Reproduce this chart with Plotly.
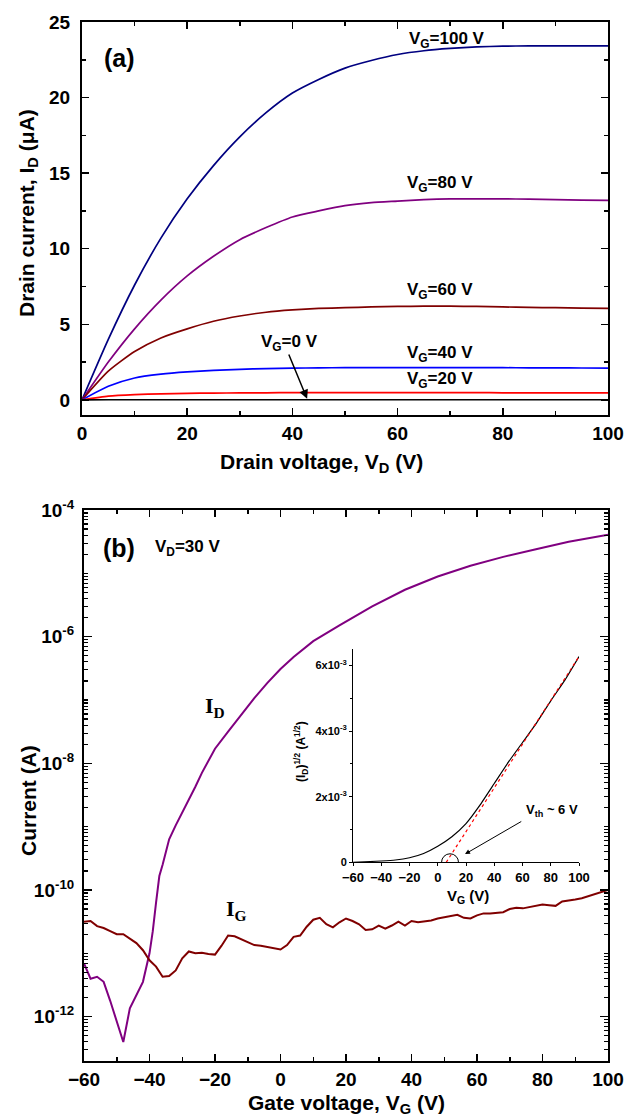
import plotly.graph_objects as go

# ---------------- data: panel (a) output characteristics ----------------
VD = [0, 5, 10, 15, 20, 25, 30, 35, 40, 45, 50, 55, 60, 65, 70, 75, 80, 85, 90, 95, 100]
ID_VG100 = [0, 4.0, 7.6, 10.7, 13.3, 15.5, 17.4, 19.0, 20.3, 21.2, 21.95, 22.45, 22.85, 23.1, 23.25, 23.35, 23.4, 23.42, 23.42, 23.42, 23.42]
ID_VG80 = [0, 2.5, 4.7, 6.6, 8.2, 9.5, 10.6, 11.4, 12.1, 12.5, 12.85, 13.05, 13.15, 13.25, 13.3, 13.3, 13.3, 13.28, 13.25, 13.22, 13.2]
ID_VG60 = [0, 1.9, 3.2, 4.1, 4.7, 5.2, 5.55, 5.8, 5.95, 6.05, 6.1, 6.15, 6.18, 6.2, 6.2, 6.18, 6.15, 6.12, 6.1, 6.07, 6.05]
ID_VG40 = [0, 0.9, 1.45, 1.7, 1.85, 1.95, 2.02, 2.07, 2.1, 2.12, 2.13, 2.14, 2.14, 2.14, 2.14, 2.13, 2.13, 2.12, 2.12, 2.11, 2.1]
ID_VG20 = [0, 0.25, 0.35, 0.4, 0.43, 0.45, 0.46, 0.47, 0.48, 0.48, 0.48, 0.48, 0.48, 0.48, 0.48, 0.48, 0.47, 0.47, 0.47, 0.47, 0.47]
ID_VG0 = [0, 0.01, 0.01, 0.01, 0.01, 0.01, 0.01, 0.01, 0.01, 0.01, 0.01, 0.01, 0.01, 0.01, 0.01, 0.01, 0.01, 0.01, 0.01, 0.01, 0.01]
A_LABELS = ["V<sub>G</sub>=100 V", "V<sub>G</sub>=80 V", "V<sub>G</sub>=60 V",
            "V<sub>G</sub>=40 V", "V<sub>G</sub>=20 V", "V<sub>G</sub>=0 V"]

# ---------------- data: panel (b) transfer characteristics (A) ----------------
ID_VG = [-60, -58, -56, -54, -52, -50, -48, -46, -44, -42, -40, -39, -38, -37, -36, -34, -32, -30,
         -28, -26, -24, -22, -20, -16, -12, -8, -4, 0, 4, 10, 18, 28, 38, 48, 58, 68, 78, 88, 100]
ID_B = [6.92e-12, 3.98e-12, 4.27e-12, 3.55e-12, 1.78e-12, 8.3e-13, 3.98e-13, 1.35e-12, 2.19e-12,
        3.55e-12, 1.0e-11, 2.24e-11, 6.31e-11, 1.66e-10, 2.51e-10, 6.31e-10, 1.05e-9, 1.66e-9,
        2.63e-9, 4.27e-9, 7.08e-9, 1.12e-8, 1.70e-8, 3.16e-8, 5.89e-8, 1.07e-7, 1.86e-7, 3.09e-7,
        4.79e-7, 8.51e-7, 1.51e-6, 3.02e-6, 5.50e-6, 8.91e-6, 1.32e-5, 1.82e-5, 2.40e-5, 3.16e-5, 4.07e-5]

IG_VG = list(range(-60, 101, 2))
IG_B = [3.16e-11, 3.24e-11, 2.69e-11, 2.51e-11, 2.24e-11, 2.00e-11, 2.00e-11, 1.70e-11, 1.45e-11, 1.12e-11,
        7.76e-12, 6.17e-12, 4.27e-12, 4.37e-12, 5.37e-12, 8.32e-12, 1.07e-11, 1.00e-11, 1.02e-11, 9.77e-12, 9.55e-12,
        1.32e-11, 1.91e-11, 1.86e-11, 1.66e-11, 1.48e-11, 1.35e-11, 1.32e-11, 1.26e-11, 1.20e-11, 1.15e-11,
        1.35e-11, 1.82e-11, 1.91e-11, 2.63e-11, 3.39e-11, 3.63e-11, 2.88e-11, 2.57e-11, 3.09e-11, 3.55e-11,
        3.24e-11, 2.88e-11, 2.34e-11, 2.40e-11, 2.75e-11, 2.45e-11, 2.75e-11, 3.16e-11, 2.75e-11, 3.24e-11,
        3.09e-11, 3.16e-11, 3.31e-11, 3.55e-11, 3.72e-11, 3.98e-11, 4.07e-11, 3.63e-11, 3.55e-11, 3.98e-11,
        4.27e-11, 4.27e-11, 4.37e-11, 4.47e-11, 5.01e-11, 5.25e-11, 5.13e-11, 5.37e-11, 5.62e-11, 5.89e-11,
        5.75e-11, 5.62e-11, 6.61e-11, 6.76e-11, 7.08e-11, 7.41e-11, 7.94e-11, 8.51e-11, 9.12e-11, 1.00e-10]

# ---------------- data: inset sqrt(ID) ----------------
INSET_VG = [-60, -40, -30, -20, -10, 0, 10, 20, 30, 40, 50, 60, 70, 80, 90, 100]
INSET_SQRT = [0, 0.04e-3, 0.07e-3, 0.14e-3, 0.27e-3, 0.49e-3, 0.78e-3, 1.18e-3, 1.75e-3, 2.40e-3,
              3.05e-3, 3.65e-3, 4.25e-3, 4.92e-3, 5.55e-3, 6.27e-3]
FIT_VG = [6, 100]
FIT_SQRT = [0, 6.27e-3]
INSET_YTICKS = [0, 2e-3, 4e-3, 6e-3]
INSET_YTEXT = ["0", "2x10<sup>-3</sup>", "4x10<sup>-3</sup>", "6x10<sup>-3</sup>"]

B_YTICKS = [1e-12, 1e-10, 1e-8, 1e-6, 1e-4]
B_YTEXT = ["10<sup>-12</sup>", "10<sup>-10</sup>", "10<sup>-8</sup>", "10<sup>-6</sup>", "10<sup>-4</sup>"]

# ---------------- layout helpers ----------------
W, H = 628, 1116
FONT = "Liberation Sans, Arial, Helvetica, sans-serif"
SERIF = "Liberation Serif, Times New Roman, serif"


def px(x):
    return x / W


def py(y):
    return 1 - y / H


fig = go.Figure()

line_w = 1.7
for ys, col in [(ID_VG100, "#000080"), (ID_VG80, "#800080"), (ID_VG60, "#800000"),
                (ID_VG40, "#0000FF"), (ID_VG20, "#FF0000"), (ID_VG0, "#000000")]:
    fig.add_trace(go.Scatter(x=VD, y=ys, mode="lines", line=dict(color=col, width=line_w, shape="spline", smoothing=0.6),
                             xaxis="x", yaxis="y", showlegend=False, hoverinfo="skip"))

fig.add_trace(go.Scatter(x=ID_VG, y=ID_B, mode="lines", line=dict(color="#800080", width=2),
                         xaxis="x2", yaxis="y2", showlegend=False))
fig.add_trace(go.Scatter(x=IG_VG, y=IG_B, mode="lines", line=dict(color="#800000", width=2),
                         xaxis="x2", yaxis="y2", showlegend=False))

fig.add_trace(go.Scatter(x=INSET_VG, y=INSET_SQRT, mode="lines",
                         line=dict(color="black", width=1.2, shape="spline", smoothing=0.5),
                         xaxis="x3", yaxis="y3", showlegend=False))
fig.add_trace(go.Scatter(x=FIT_VG, y=FIT_SQRT, mode="lines", line=dict(color="#FF0000", width=1.2, dash="3px,3px"),
                         xaxis="x3", yaxis="y3", showlegend=False))

tickfont = dict(family=FONT, size=19, color="black", weight="bold")
frame = dict(showline=True, mirror="allticks", linecolor="black", linewidth=2, ticks="inside",
             tickcolor="black", tickwidth=1.5, showgrid=False, zeroline=False, automargin=False)

minor_b_y = [k * 10.0 ** n for n in range(-13, -4) for k in range(1, 10) if not (k == 1 and n % 2 == 0)]

fig.update_layout(
    template="none",
    width=W, height=H, margin=dict(l=0, r=0, t=0, b=0, pad=0), autosize=False,
    paper_bgcolor="white", plot_bgcolor="rgba(0,0,0,0)", showlegend=False,
    xaxis=dict(domain=[px(82), px(608)], range=[0, 100], anchor="y", tickvals=[0, 20, 40, 60, 80, 100],
               ticklen=7, tickfont=tickfont, minor=dict(dtick=10, tick0=0, ticklen=4, ticks="inside",
                                                        tickcolor="black", tickwidth=1.5), **frame),
    yaxis=dict(domain=[py(415), py(22)], range=[-1, 25], anchor="x", tickvals=[0, 5, 10, 15, 20, 25],
               ticklen=7, tickfont=tickfont, ticklabelstandoff=6,
               minor=dict(dtick=2.5, tick0=0, ticklen=4, ticks="inside", tickcolor="black", tickwidth=1.5), **frame),
    xaxis2=dict(domain=[px(84), px(608)], range=[-60, 100], anchor="y2",
                tickvals=[-60, -40, -20, 0, 20, 40, 60, 80, 100], ticklen=7, tickfont=tickfont,
                minor=dict(dtick=10, tick0=0, ticklen=4, ticks="inside", tickcolor="black", tickwidth=1.5), **frame),
    yaxis2=dict(domain=[py(1061), py(510)], type="log", range=[-12.7, -4], anchor="x2",
                tickvals=B_YTICKS, ticktext=B_YTEXT, ticklen=8, tickfont=tickfont, ticklabelstandoff=4,
                minor=dict(tickvals=minor_b_y, ticklen=4, ticks="inside", tickcolor="black", tickwidth=1.2), **frame),
    xaxis3=dict(domain=[px(353), px(579)], range=[-60, 100], anchor="y3", showline=True, linecolor="black",
                linewidth=1, ticks="outside", ticklen=3, tickcolor="black", tickwidth=1, automargin=False,
                tickvals=[-60, -40, -20, 0, 20, 40, 60, 80, 100], showgrid=False, zeroline=False,
                tickfont=dict(family=FONT, size=13, color="black", weight="bold")),
    yaxis3=dict(domain=[py(862.3), py(649)], range=[0, 6.5e-3], anchor="x3", showline=True, linecolor="black",
                linewidth=1, ticks="outside", ticklen=3, tickcolor="black", tickwidth=1, automargin=False,
                tickvals=INSET_YTICKS, ticktext=INSET_YTEXT, showgrid=False, zeroline=False,
                minor=dict(tickvals=[1e-3, 3e-3, 5e-3], ticklen=2, ticks="outside", tickcolor="black"),
                tickfont=dict(family=FONT, size=11, color="black", weight="bold")),
)

ann = []


def text(x, y, s, size=16, family=FONT, angle=0, bold=True):
    ann.append(dict(x=px(x), y=py(y), xref="paper", yref="paper", text=s, showarrow=False,
                    textangle=angle, xanchor="center", yanchor="middle",
                    font=dict(family=family, size=size, color="black", weight="bold" if bold else "normal")))


# panel (a) texts
text(119, 58, "(a)", size=25)
text(447, 40, A_LABELS[0], size=17)
text(440, 184, A_LABELS[1], size=17)
text(440, 291, A_LABELS[2], size=17)
text(440, 354, A_LABELS[3], size=17)
text(440, 380, A_LABELS[4], size=17)
text(289, 343, A_LABELS[5], size=17)
text(28, 213, "Drain current, I<sub>D</sub> (\u03bcA)", size=21, angle=-90)
text(321, 463, "Drain voltage, V<sub>D</sub> (V)", size=21)

# panel (b) texts
text(119, 548, "(b)", size=25)
text(187, 548, "V<sub>D</sub>=30 V", size=17)
text(215, 707, "I<sub>D</sub>", size=22, family=SERIF)
text(236, 910, "I<sub>G</sub>", size=22, family=SERIF)
text(28, 800, "Current (A)", size=21, angle=-90)
text(346, 1104, "Gate voltage, V<sub>G</sub> (V)", size=21)

# inset texts
text(301, 752, "(I<sub>D</sub>)<sup>1/2</sup> (A<sup>1/2</sup>)", size=12, angle=-90)
text(468, 896, "V<sub>G</sub> (V)", size=15)
text(552, 811, "V<sub>th</sub> ~ 6 V", size=13)

# arrows
ann.append(dict(x=42.8, y=0.07, xref="x", yref="y", ax=39.2, ay=3.1, axref="x", ayref="y",
                showarrow=True, arrowhead=2, arrowsize=1.2, arrowwidth=1.5, arrowcolor="black", text=""))
ann.append(dict(x=19.3, y=0.25e-3, xref="x3", yref="y3", ax=60.2, ay=1.27e-3, axref="x3", ayref="y3",
                showarrow=True, arrowhead=2, arrowsize=1, arrowwidth=1, arrowcolor="black", text=""))

fig.update_layout(annotations=ann)

fig.add_shape(type="circle", xref="x3", yref="y3", x0=2.7, x1=14.7, y0=-0.26e-3, y1=0.26e-3,
              line=dict(color="black", width=1))

fig.write_html("out.html", config={"displayModeBar": False, "staticPlot": True},
               post_script="document.body.style.margin='0';document.body.style.padding='0';"
                           "document.body.style.overflow='hidden';")
